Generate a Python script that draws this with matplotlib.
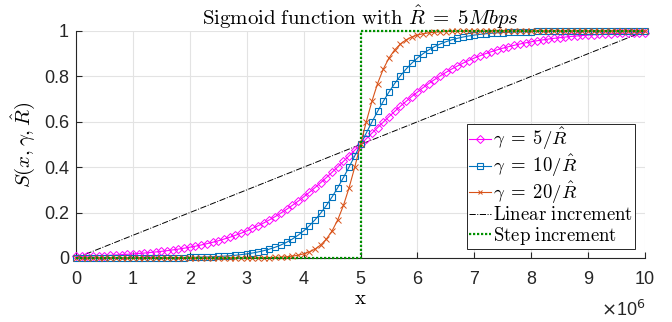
import numpy as np
import matplotlib
matplotlib.use("Agg")
import matplotlib.pyplot as plt
from matplotlib.ticker import FuncFormatter

plt.rcParams['mathtext.fontset'] = 'cm'
plt.rcParams['font.family'] = ['Liberation Sans', 'DejaVu Sans']

# sample positions (bps)
x = np.linspace(0, 1e7, 101)

s_gamma5 = [0.0067, 0.0074, 0.0082, 0.0090, 0.0100, 0.0110, 0.0121, 0.0134, 0.0148, 0.0163,
            0.0180, 0.0198, 0.0219, 0.0241, 0.0266, 0.0293, 0.0323, 0.0356, 0.0392, 0.0431,
            0.0474, 0.0522, 0.0573, 0.0630, 0.0691, 0.0759, 0.0832, 0.0911, 0.0998, 0.1091,
            0.1192, 0.1301, 0.1419, 0.1545, 0.1680, 0.1824, 0.1978, 0.2142, 0.2315, 0.2497,
            0.2689, 0.2891, 0.3100, 0.3318, 0.3543, 0.3775, 0.4013, 0.4256, 0.4502, 0.4750,
            0.5000,
            0.5250, 0.5498, 0.5744, 0.5987, 0.6225, 0.6457, 0.6682, 0.6900, 0.7109, 0.7311,
            0.7503, 0.7685, 0.7858, 0.8022, 0.8176, 0.8320, 0.8455, 0.8581, 0.8699, 0.8808,
            0.8909, 0.9002, 0.9089, 0.9168, 0.9241, 0.9309, 0.9370, 0.9427, 0.9478, 0.9526,
            0.9569, 0.9608, 0.9644, 0.9677, 0.9707, 0.9734, 0.9759, 0.9781, 0.9802, 0.9820,
            0.9837, 0.9852, 0.9866, 0.9879, 0.9890, 0.9900, 0.9910, 0.9918, 0.9926, 0.9933]

s_gamma10 = [0.0000, 0.0001, 0.0001, 0.0001, 0.0001, 0.0001, 0.0002, 0.0002, 0.0002, 0.0003,
             0.0003, 0.0004, 0.0005, 0.0006, 0.0007, 0.0009, 0.0011, 0.0014, 0.0017, 0.0020,
             0.0025, 0.0030, 0.0037, 0.0045, 0.0055, 0.0067, 0.0082, 0.0100, 0.0121, 0.0148,
             0.0180, 0.0219, 0.0266, 0.0323, 0.0392, 0.0474, 0.0573, 0.0691, 0.0832, 0.0998,
             0.1192, 0.1419, 0.1680, 0.1978, 0.2315, 0.2689, 0.3100, 0.3543, 0.4013, 0.4502,
             0.5000,
             0.5498, 0.5987, 0.6457, 0.6900, 0.7311, 0.7685, 0.8022, 0.8320, 0.8581, 0.8808,
             0.9002, 0.9168, 0.9309, 0.9427, 0.9526, 0.9608, 0.9677, 0.9734, 0.9781, 0.9820,
             0.9852, 0.9879, 0.9900, 0.9918, 0.9933, 0.9945, 0.9955, 0.9963, 0.9970, 0.9975,
             0.9980, 0.9983, 0.9986, 0.9989, 0.9991, 0.9993, 0.9994, 0.9995, 0.9996, 0.9997,
             0.9997, 0.9998, 0.9998, 0.9998, 0.9999, 0.9999, 0.9999, 0.9999, 0.9999, 1.0000]

s_gamma20 = [0.0, 0.0, 0.0, 0.0, 0.0, 0.0, 0.0, 0.0, 0.0, 0.0,
             0.0, 0.0, 0.0, 0.0, 0.0, 0.0, 0.0, 0.0, 0.0, 0.0,
             0.0, 0.0, 0.0, 0.0, 0.0, 0.0, 0.0001, 0.0001, 0.0002, 0.0002,
             0.0003, 0.0005, 0.0007, 0.0011, 0.0017, 0.0025, 0.0037, 0.0055, 0.0082, 0.0121,
             0.0180, 0.0266, 0.0392, 0.0573, 0.0832, 0.1192, 0.1680, 0.2315, 0.3100, 0.4013,
             0.5000,
             0.5987, 0.6900, 0.7685, 0.8320, 0.8808, 0.9168, 0.9427, 0.9608, 0.9734, 0.9820,
             0.9879, 0.9918, 0.9945, 0.9963, 0.9975, 0.9983, 0.9989, 0.9993, 0.9995, 0.9997,
             0.9998, 0.9998, 0.9999, 0.9999, 1.0, 1.0, 1.0, 1.0, 1.0, 1.0,
             1.0, 1.0, 1.0, 1.0, 1.0, 1.0, 1.0, 1.0, 1.0, 1.0,
             1.0, 1.0, 1.0, 1.0, 1.0, 1.0, 1.0, 1.0, 1.0, 1.0]

linear_x = [0, 1e7]
linear_y = [0, 1]
step_x = [0, 5e6, 5e6, 1e7]
step_y = [0, 0, 1, 1]

labels = [r'$\gamma\;=\;5/\hat{R}$', r'$\gamma\;=\;10/\hat{R}$', r'$\gamma\;=\;20/\hat{R}$',
          r'$\mathrm{Linear\ increment}$', r'$\mathrm{Step\ increment}$']

fig = plt.figure(figsize=(6.72, 3.22), dpi=100)
ax = fig.add_axes([76/672, 1 - 258/322, (645-76)/672, (258-31)/322])

lw = 0.8
ax.plot(x, s_gamma5, color='#FF00FF', marker='D', markersize=4.5, markerfacecolor='none',
        markeredgewidth=0.7, lw=lw, label=labels[0], zorder=3, clip_on=False)
ax.plot(x, s_gamma10, color='#0072BD', marker='s', markersize=4.3, markerfacecolor='none',
        markeredgewidth=0.8, lw=lw, label=labels[1], zorder=4, clip_on=False)
ax.plot(x, s_gamma20, color='#D95319', marker='x', markersize=3.8,
        markeredgewidth=0.7, lw=lw, label=labels[2], zorder=5, clip_on=False)
ax.plot(linear_x, linear_y, color='black', ls='-.', lw=0.7, label=labels[3], zorder=2)
ax.plot(step_x, step_y, color='#009000', ls=(0, (1, 0.8)), lw=1.6, label=labels[4],
        zorder=6, clip_on=False)

ax.set_xlim(0, 1e7)
ax.set_ylim(0, 1)
ax.set_xticks(np.arange(0, 11) * 1e6)
ax.set_yticks([0, 0.2, 0.4, 0.6, 0.8, 1])
ax.xaxis.set_major_formatter(FuncFormatter(lambda v, p: f'{v/1e6:g}'))
ax.yaxis.set_major_formatter(FuncFormatter(lambda v, p: f'{v:g}'))
ax.grid(True, color='#e3e3e3', lw=0.8)
ax.set_axisbelow(True)
for s in ['top', 'right']:
    ax.spines[s].set_visible(False)
for s in ['left', 'bottom']:
    ax.spines[s].set_color('#262626')
    ax.spines[s].set_linewidth(0.8)
ax.tick_params(direction='in', length=4, width=0.8, colors='#262626', labelsize=13,
               pad=5)
ax.tick_params(axis='x', pad=9)

ax.set_title(r'$\mathrm{Sigmoid\ function\ with\ }\hat{R}\;=\;5Mbps$', fontsize=15, pad=4)
ax.set_ylabel(r'$S(x,\gamma,\hat{R})$', fontsize=15, labelpad=5)
ax.set_xlabel(r'$\mathrm{x}$', fontsize=15, labelpad=1)
ax.text(1.0, (258 - 316) / 227, r'$\times$10$^{6}$', transform=ax.transAxes, ha='right',
        va='baseline', fontsize=13, color='#262626', family='Liberation Sans',
        math_fontfamily='dejavusans')

leg = ax.legend(loc='lower right', bbox_to_anchor=(0.982, 0.04), fontsize=13.5,
                fancybox=False, framealpha=1, edgecolor='#262626', handlelength=1.15,
                handletextpad=0.1, borderpad=0.12, labelspacing=0.02, borderaxespad=0,
                markerscale=0.85)
leg.get_frame().set_linewidth(0.7)

fig.savefig('out.png', dpi=100)
